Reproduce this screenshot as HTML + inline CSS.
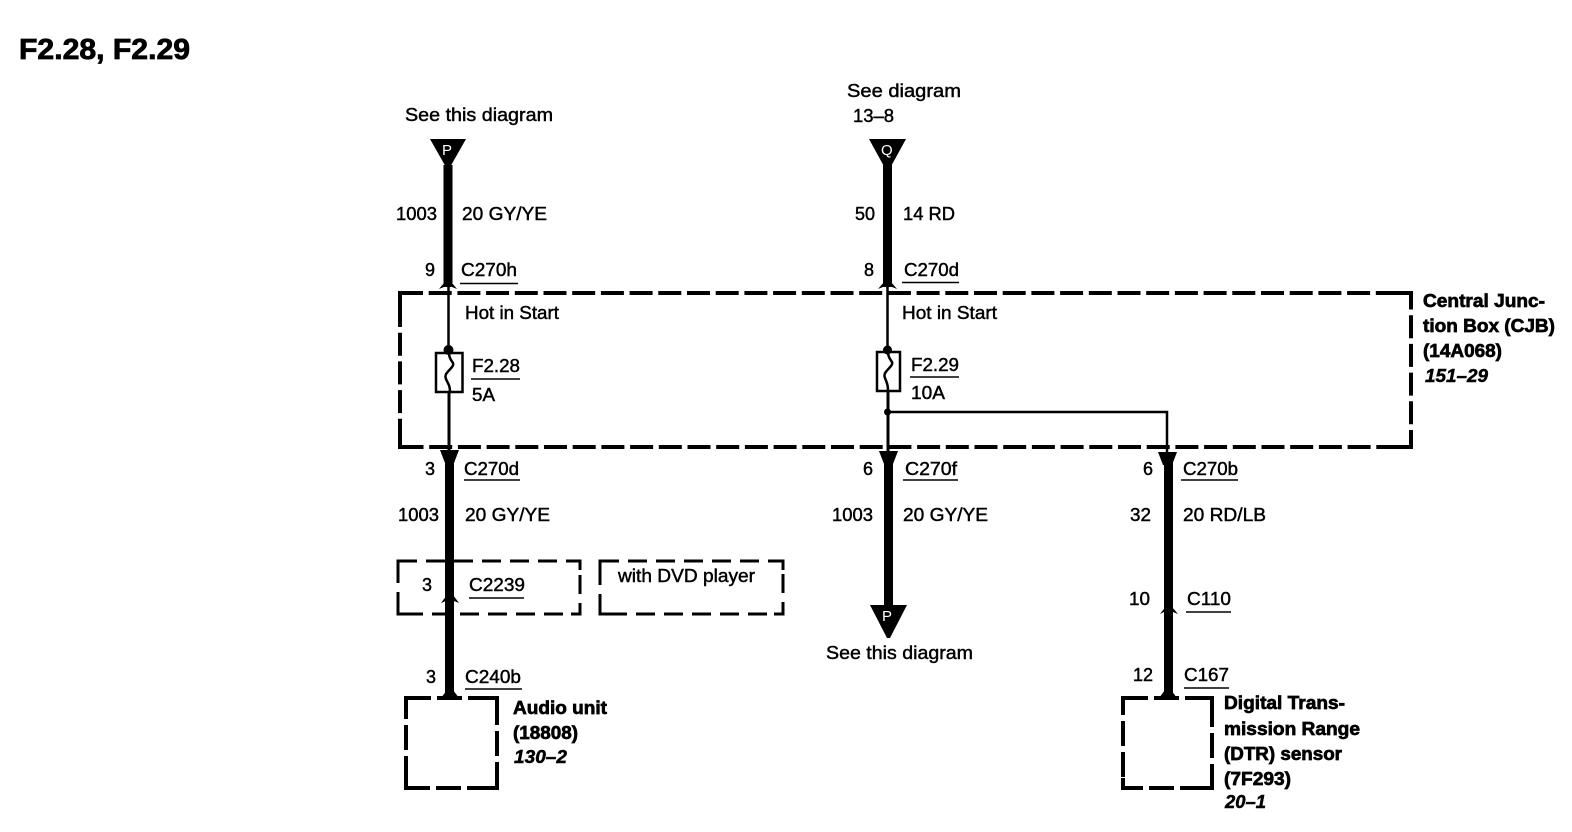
<!DOCTYPE html>
<html><head><meta charset="utf-8"><style>
html,body{margin:0;padding:0;background:#fff}
svg{display:block}
text{font-family:"Liberation Sans",sans-serif;font-size:18.5px;fill:#000;stroke:#000;stroke-width:.45px}
.b{font-weight:bold;stroke-width:.7px}
.i{font-weight:bold;font-style:italic;stroke-width:.5px}
.t{font-size:29px;font-weight:bold;stroke-width:.8px}
.w{fill:#fff;stroke:none;font-size:15px}
</style></head><body>
<svg width="1572" height="832" viewBox="0 0 1572 832" xmlns="http://www.w3.org/2000/svg">
<rect width="1572" height="832" fill="#fff"/>
<text class="t" x="19" y="59" textLength="171" lengthAdjust="spacingAndGlyphs">F2.28, F2.29</text>

<!-- dashed boxes -->
<g fill="none" stroke="#000" stroke-width="3.6">
<rect x="400" y="293" width="1011" height="154" stroke-width="4" stroke-dasharray="23 5.7"/>
<rect x="398" y="561" width="182" height="53" stroke-width="3" stroke-dasharray="19 9"/>
<rect x="600" y="561" width="183" height="53" stroke-width="3" stroke-dasharray="19 9"/>
<rect x="406" y="698" width="91" height="90" stroke-width="4" stroke-dasharray="25 6"/>
<rect x="1123" y="698" width="89" height="90" stroke-width="4" stroke-dasharray="25 6"/>
<g stroke-width="4">
<path d="M400 306V293H413M1398 293H1411V306M400 434V447H413M1398 447H1411V434"/>
<path d="M406 708V698H416M487 698H497V708M406 778V788H416M487 788H497V778"/>
<path d="M1123 708V698H1133M1202 698H1212V708M1123 778V788H1133M1202 788H1212V778"/>
</g>
<g stroke-width="3">
<path d="M398 570V561H407M571 561H580V570M398 605V614H407M571 614H580V605"/>
<path d="M600 570V561H609M774 561H783V570M600 605V614H609M774 614H783V605"/>
</g>
</g>

<!-- wires -->
<g fill="#000" stroke="none">
<!-- left upper -->
<polygon points="430,139 466,139 449,169 447,169"/>
<rect x="443.5" y="165" width="9" height="118"/>
<polygon points="439,289 448,278 457,289 452,287 444,287"/>
<!-- left lower -->
<polygon points="440,450 459,450 454,463 445,463"/>
<rect x="445" y="455" width="9" height="238"/>
<polygon points="441,603 450,591 459,603 454,601 446,601"/>
<rect x="446" y="600" width="8" height="92"/>
<polygon points="441,698 450,686 459,698"/>
<!-- mid upper -->
<polygon points="869,139 906,139 889,170 886,170"/>
<rect x="883" y="165" width="9" height="118"/>
<polygon points="878,289 887.500,278 897,289 892,287 883,287"/>
<!-- mid lower -->
<polygon points="879,451 898,451 893,464 884,464"/>
<rect x="884" y="455" width="9" height="155"/>
<polygon points="870,605 907,605 890,638 887,638"/>
<!-- right -->
<polygon points="1158,452 1177,452 1172,465 1163,465"/>
<rect x="1164" y="455" width="9" height="238"/>
<polygon points="1160,614 1168.500,603 1178,614 1173,612 1164,612"/>
<polygon points="1159,698 1168,686 1177,698"/>
<circle cx="448.500" cy="350" r="5"/>
<circle cx="887.500" cy="350" r="4.500"/>
<circle cx="887.500" cy="412" r="3.500"/>
</g>
<g fill="none" stroke="#000" stroke-width="2.500">
<path d="M448.500 287V350"/>
<path d="M449 392V452" stroke-width="3"/>
<path d="M887.500 287V350"/>
<path d="M888 391V452" stroke-width="3"/>
<path d="M888 412H1167V453"/>
<rect x="436" y="353" width="26.500" height="39"/>
<rect x="877" y="352" width="23" height="39"/>
<path d="M449 353C449 362 456 362 452 367C448 372 444 374 446 379C448 384 450 385 450 392"/>
<path d="M888 352C888 361 895 361 891 366C887 371 883 373 885 378C887 383 888 385 888 391"/>
</g>

<!-- underlines -->
<g stroke="#000" stroke-width="1.500">
<path d="M460 283.500H518M471 379H520M464 480H520M469 598H524M465 689H522"/>
<path d="M902 282.500H959M910 377H959M903 480H958M1181 480H1238M1186 612H1231M1184 688H1229"/>
</g>

<!-- triangle letters -->
<text class="w" x="442" y="155">P</text>
<text class="w" x="881" y="155">Q</text>
<text class="w" x="882" y="621">P</text>

<!-- left labels -->
<text x="405" y="121" textLength="148" lengthAdjust="spacingAndGlyphs">See this diagram</text>
<text x="396" y="220" textLength="41" lengthAdjust="spacingAndGlyphs">1003</text>
<text x="462" y="220" textLength="85" lengthAdjust="spacingAndGlyphs">20 GY/YE</text>
<text x="425" y="276" textLength="10" lengthAdjust="spacingAndGlyphs">9</text>
<text x="461" y="276" textLength="56" lengthAdjust="spacingAndGlyphs">C270h</text>
<text x="465" y="319" textLength="94" lengthAdjust="spacingAndGlyphs">Hot in Start</text>
<text x="472" y="372" textLength="48" lengthAdjust="spacingAndGlyphs">F2.28</text>
<text x="472" y="401" textLength="23" lengthAdjust="spacingAndGlyphs">5A</text>
<text x="425" y="475" textLength="10" lengthAdjust="spacingAndGlyphs">3</text>
<text x="464" y="475" textLength="55" lengthAdjust="spacingAndGlyphs">C270d</text>
<text x="398" y="521" textLength="41" lengthAdjust="spacingAndGlyphs">1003</text>
<text x="465" y="521" textLength="85" lengthAdjust="spacingAndGlyphs">20 GY/YE</text>
<text x="422" y="591" textLength="10" lengthAdjust="spacingAndGlyphs">3</text>
<text x="469" y="591" textLength="56" lengthAdjust="spacingAndGlyphs">C2239</text>
<text x="618" y="582" textLength="137" lengthAdjust="spacingAndGlyphs">with DVD player</text>
<text x="426" y="683" textLength="10" lengthAdjust="spacingAndGlyphs">3</text>
<text x="465" y="683" textLength="56" lengthAdjust="spacingAndGlyphs">C240b</text>
<text class="b" x="513" y="714" textLength="94" lengthAdjust="spacingAndGlyphs">Audio unit</text>
<text class="b" x="513" y="739" textLength="65" lengthAdjust="spacingAndGlyphs">(18808)</text>
<text class="i" x="514" y="763" textLength="53" lengthAdjust="spacingAndGlyphs">130–2</text>

<!-- middle labels -->
<text x="847" y="97" textLength="114" lengthAdjust="spacingAndGlyphs">See diagram</text>
<text x="853" y="122" textLength="41" lengthAdjust="spacingAndGlyphs">13–8</text>
<text x="855" y="220" textLength="20" lengthAdjust="spacingAndGlyphs">50</text>
<text x="903" y="220" textLength="52" lengthAdjust="spacingAndGlyphs">14 RD</text>
<text x="864" y="276" textLength="10" lengthAdjust="spacingAndGlyphs">8</text>
<text x="904" y="276" textLength="55" lengthAdjust="spacingAndGlyphs">C270d</text>
<text x="902" y="319" textLength="95" lengthAdjust="spacingAndGlyphs">Hot in Start</text>
<text x="911" y="371" textLength="48" lengthAdjust="spacingAndGlyphs">F2.29</text>
<text x="911" y="399" textLength="34" lengthAdjust="spacingAndGlyphs">10A</text>
<text x="863" y="475" textLength="10" lengthAdjust="spacingAndGlyphs">6</text>
<text x="905" y="475" textLength="52" lengthAdjust="spacingAndGlyphs">C270f</text>
<text x="832" y="521" textLength="41" lengthAdjust="spacingAndGlyphs">1003</text>
<text x="903" y="521" textLength="85" lengthAdjust="spacingAndGlyphs">20 GY/YE</text>
<text x="826" y="659" textLength="147" lengthAdjust="spacingAndGlyphs">See this diagram</text>

<!-- right labels -->
<text x="1143" y="475" textLength="10" lengthAdjust="spacingAndGlyphs">6</text>
<text x="1183" y="475" textLength="55" lengthAdjust="spacingAndGlyphs">C270b</text>
<text x="1130" y="521" textLength="21" lengthAdjust="spacingAndGlyphs">32</text>
<text x="1183" y="521" textLength="83" lengthAdjust="spacingAndGlyphs">20 RD/LB</text>
<text x="1129" y="605" textLength="21" lengthAdjust="spacingAndGlyphs">10</text>
<text x="1187" y="605" textLength="44" lengthAdjust="spacingAndGlyphs">C110</text>
<text x="1133" y="681" textLength="20" lengthAdjust="spacingAndGlyphs">12</text>
<text x="1184" y="681" textLength="45" lengthAdjust="spacingAndGlyphs">C167</text>
<text class="b" x="1224" y="709" textLength="121" lengthAdjust="spacingAndGlyphs">Digital Trans-</text>
<text class="b" x="1224" y="735" textLength="136" lengthAdjust="spacingAndGlyphs">mission Range</text>
<text class="b" x="1224" y="760" textLength="118" lengthAdjust="spacingAndGlyphs">(DTR) sensor</text>
<text class="b" x="1224" y="785" textLength="67" lengthAdjust="spacingAndGlyphs">(7F293)</text>
<text class="i" x="1225" y="808" textLength="41" lengthAdjust="spacingAndGlyphs">20–1</text>

<text class="b" x="1423" y="307" textLength="122" lengthAdjust="spacingAndGlyphs">Central Junc-</text>
<text class="b" x="1423" y="332" textLength="132" lengthAdjust="spacingAndGlyphs">tion Box (CJB)</text>
<text class="b" x="1423" y="357" textLength="79" lengthAdjust="spacingAndGlyphs">(14A068)</text>
<text class="i" x="1425" y="382" textLength="63" lengthAdjust="spacingAndGlyphs">151–29</text>
</svg>
</body></html>
